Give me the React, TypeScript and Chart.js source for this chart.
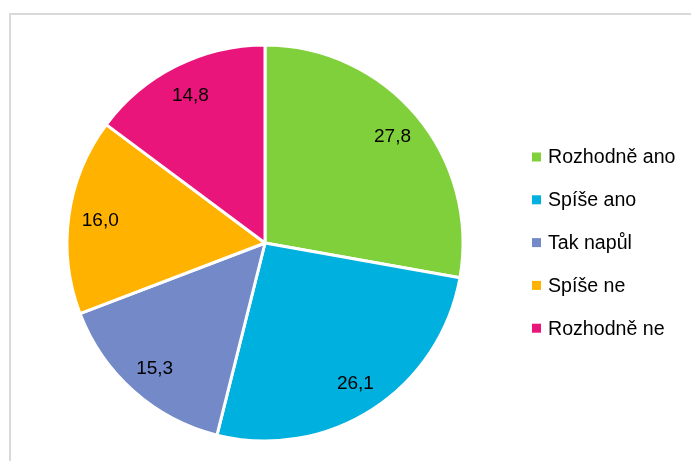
import React, { useEffect, useRef } from "react";
import { Chart, registerables } from "chart.js";

Chart.register(...registerables);

const categories = ["Rozhodně ano", "Spíše ano", "Tak napůl", "Spíše ne", "Rozhodně ne"];
const values = [27.8, 26.1, 15.3, 16.0, 14.8];
const colors = ["#80D03C", "#00B0DE", "#7389C8", "#FFB300", "#EA157A"];

const FONT = "'Liberation Sans', Arial, sans-serif";

const framePlugin = {
  id: "frame",
  beforeDraw(chart: any) {
    const ctx = chart.ctx;
    ctx.save();
    ctx.fillStyle = "#ffffff";
    ctx.fillRect(0, 0, chart.width, chart.height);
    ctx.strokeStyle = "#D9D9D9";
    ctx.lineWidth = 2;
    ctx.beginPath();
    ctx.moveTo(10, chart.height + 5);
    ctx.lineTo(10, 14);
    ctx.lineTo(chart.width + 5, 14);
    ctx.stroke();
    ctx.restore();
  },
};

const labelPlugin = {
  id: "sliceLabels",
  afterDatasetsDraw(chart: any) {
    const ctx = chart.ctx;
    const meta = chart.getDatasetMeta(0);
    ctx.save();
    ctx.font = `19px ${FONT}`;
    ctx.fillStyle = "#000000";
    ctx.textAlign = "center";
    ctx.textBaseline = "middle";
    meta.data.forEach((arc: any, i: number) => {
      const { x, y, startAngle, endAngle, outerRadius } = arc.getProps(
        ["x", "y", "startAngle", "endAngle", "outerRadius"],
        true
      );
      const mid = (startAngle + endAngle) / 2;
      const r = outerRadius * 0.84;
      const text = values[i].toFixed(1).replace(".", ",");
      ctx.fillText(text, x + Math.cos(mid) * r, y + Math.sin(mid) * r + 1);
    });
    ctx.restore();
  },
};

const legendPlugin = {
  id: "customLegend",
  afterDraw(chart: any) {
    const ctx = chart.ctx;
    const labels = chart.data.labels as string[];
    const bg = chart.data.datasets[0].backgroundColor as string[];
    ctx.save();
    ctx.font = `19.6px ${FONT}`;
    ctx.textBaseline = "middle";
    ctx.textAlign = "left";
    const x0 = 532;
    const y0 = 157;
    const step = 42.8;
    labels.forEach((lab, i) => {
      const cy = y0 + i * step;
      ctx.fillStyle = bg[i];
      ctx.fillRect(x0, cy - 4.5, 9, 9);
      ctx.fillStyle = "#000000";
      ctx.fillText(lab, x0 + 16, cy + 1);
    });
    ctx.restore();
  },
};

export default function App() {
  const ref = useRef<HTMLCanvasElement | null>(null);
  useEffect(() => {
    if (!ref.current) return;
    const chart = new Chart(ref.current, {
      type: "pie",
      data: {
        labels: categories,
        datasets: [
          {
            data: values,
            backgroundColor: colors,
            borderColor: "#ffffff",
            borderWidth: 3,
          },
        ],
      },
      options: {
        responsive: false,
        animation: false,
        radius: 198,
        layout: { padding: { left: 40, right: 201, top: 35, bottom: 10 } },
        plugins: {
          legend: { display: false },
          tooltip: { enabled: false },
          title: { display: false },
        },
      } as any,
      plugins: [framePlugin, labelPlugin, legendPlugin],
    });
    return () => chart.destroy();
  }, []);
  return (
    <div style={{ position: "fixed", left: 0, top: 0, width: 691, height: 461, background: "#fff" }}>
      <canvas ref={ref} width={691} height={461} style={{ width: 691, height: 461, display: "block" }} />
    </div>
  );
}
